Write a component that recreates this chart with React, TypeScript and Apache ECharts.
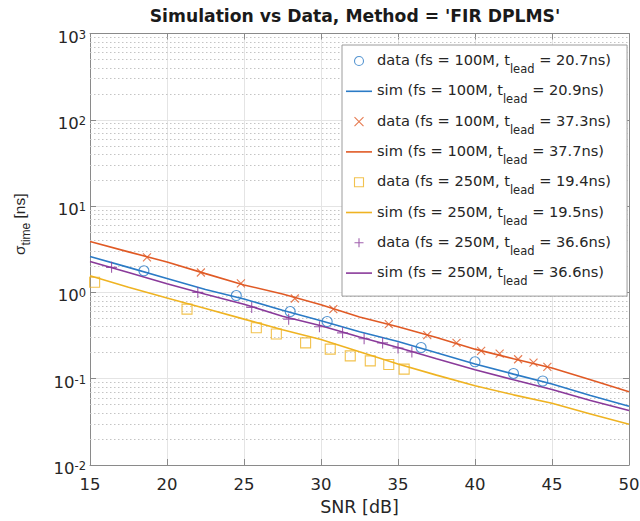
import React, { useEffect, useRef } from "react";
import * as echarts from "echarts";

// ---------- data ----------
const snrSim = [15, 17.5, 20, 22.5, 25, 27.5, 30, 32.5, 35, 37.5, 40, 42.5, 45, 47.5, 50];
const simA = [2.6, 1.95, 1.45, 1.08, 0.84, 0.62, 0.47, 0.35, 0.27, 0.2, 0.148, 0.113, 0.087, 0.064, 0.048];
const simB = [3.88, 2.95, 2.25, 1.65, 1.22, 0.96, 0.72, 0.52, 0.4, 0.3, 0.22, 0.17, 0.133, 0.097, 0.0706];
const simC = [1.56, 1.15, 0.86, 0.65, 0.49, 0.37, 0.285, 0.205, 0.148, 0.11, 0.083, 0.065, 0.052, 0.039, 0.0297];
const simD = [2.28, 1.7, 1.26, 0.95, 0.73, 0.53, 0.41, 0.305, 0.23, 0.17, 0.127, 0.097, 0.075, 0.056, 0.0427];

const snrDataA = [18.5, 24.5, 28.0, 30.4, 36.5, 40.0, 42.5, 44.4];
const valDataA = [1.78, 0.92, 0.6, 0.46, 0.23, 0.157, 0.115, 0.094];
const snrDataB = [18.7, 22.2, 24.8, 28.3, 30.8, 34.4, 36.9, 38.8, 40.4, 41.6, 42.8, 43.8, 44.7];
const valDataB = [2.55, 1.7, 1.27, 0.85, 0.64, 0.43, 0.32, 0.26, 0.21, 0.195, 0.168, 0.154, 0.137];
const snrDataC = [15.3, 21.3, 25.8, 27.1, 29.0, 30.6, 31.9, 33.2, 34.4, 35.4];
const valDataC = [1.31, 0.64, 0.39, 0.33, 0.26, 0.22, 0.184, 0.161, 0.146, 0.129];
const snrDataD = [16.4, 22.0, 25.5, 27.9, 29.9, 31.4, 32.8, 34.0, 35.0, 35.9];
const valDataD = [1.95, 1.0, 0.67, 0.49, 0.4, 0.34, 0.29, 0.26, 0.227, 0.204];

const seriesNames = [
  "data (fs = 100M, t_lead = 20.7ns)",
  "sim (fs = 100M, t_lead = 20.9ns)",
  "data (fs = 100M, t_lead = 37.3ns)",
  "sim (fs = 100M, t_lead = 37.7ns)",
  "data (fs = 250M, t_lead = 19.4ns)",
  "sim (fs = 250M, t_lead = 19.5ns)",
  "data (fs = 250M, t_lead = 36.6ns)",
  "sim (fs = 250M, t_lead = 36.6ns)",
];

const decades = [0.01, 0.1, 1, 10, 100];
const minorSteps = [2, 3, 4, 5, 6, 7, 8, 9];

// ---------- style ----------
const FONT = '"DejaVu Sans", Verdana, sans-serif';
const FONT_Y = '"Liberation Sans", Arial, Helvetica, sans-serif';
const TXT = "#262626";
const AX = "#8a8a8a";
const C_BLUE = "#2b7bc6";
const C_ORANGE = "#e05a25";
const C_YELLOW = "#efb322";
const C_PURPLE = "#8a3a9a";

const SYM_CIRCLE = "path://M5,0A5,5,0,1,1,5,10A5,5,0,1,1,5,0Z";
const SYM_X = "path://M0,0L10,10M10,0L0,10";
const SYM_SQ = "path://M0,0L10,0L10,10L0,10Z";
const SYM_PLUS = "path://M5,0L5,10M0,5L10,5";
const ICON_LINE = "path://M0,0H26V1.6H0Z";

const zip = (xs: number[], ys: number[]) => xs.map((x, i) => [x, ys[i]]);

export default function App() {
  const ref = useRef<HTMLDivElement>(null);

  useEffect(() => {
    if (!ref.current) return;
    const chart = echarts.init(ref.current, undefined, { renderer: "svg" });

    const minorVals: number[] = [];
    decades.forEach((d) => minorSteps.forEach((m) => minorVals.push(m * d)));

    const scatter = (name: string, sym: string, size: number, color: string, data: number[][]) => ({
      type: "scatter",
      name,
      data,
      symbol: sym,
      symbolSize: size,
      z: 4,
      itemStyle: { color: "none", borderColor: color, borderWidth: 1.1 },
    });
    const line = (name: string, color: string, data: number[][]) => ({
      type: "line",
      name,
      data,
      symbol: "none",
      showSymbol: false,
      z: 3,
      lineStyle: { color, width: 1.6 },
      itemStyle: { color },
    });

    const option: any = {
      animation: false,
      backgroundColor: "#ffffff",
      textStyle: { fontFamily: FONT },
      graphic: [
        {
          type: "text",
          x: 355,
          y: 15.5,
          style: {
            text: "Simulation vs Data, Method = 'FIR DPLMS'",
            font: `bold 17.2px ${FONT}`,
            fill: "#1a1a1a",
            align: "center",
            verticalAlign: "middle",
          },
        },
      ],
      grid: { left: 90, right: 11, top: 33.5, bottom: 56, containLabel: false, outerBoundsMode: "none" },
      legend: {
        orient: "vertical",
        left: 342,
        top: 45,
        z: 20,
        padding: [7, 16, 9, 4],
        itemGap: 7.3,
        itemWidth: 26,
        itemHeight: 9,
        backgroundColor: "#ffffff",
        borderColor: "#9c9c9c",
        borderWidth: 1,
        itemStyle: { borderWidth: 1.1 },
        data: seriesNames.map((n, i) =>
          i % 2 === 1 ? { name: n, icon: ICON_LINE, itemStyle: { borderWidth: 0 } } : { name: n }
        ),
        formatter: (n: string) => {
          const parts = n.split("t_lead");
          return `{m|${parts[0]}t}{sub|lead}{m|${parts[1]}}`;
        },
        textStyle: {
          fontFamily: FONT,
          fontSize: 14.6,
          color: TXT,
          rich: {
            m: { fontFamily: FONT, fontSize: 14.6, color: TXT, lineHeight: 18, verticalAlign: "top" },
            sub: {
              fontFamily: FONT,
              fontSize: 11.5,
              color: TXT,
              lineHeight: 12,
              padding: [11, 0, 0, 0],
              verticalAlign: "top",
            },
          },
        },
      },
      xAxis: [
        {
          type: "value",
          min: 15,
          max: 50,
          interval: 5,
          position: "bottom",
          axisLine: { show: true, lineStyle: { color: AX, width: 1 } },
          axisTick: { show: true, inside: true, length: 6, lineStyle: { color: AX } },
          splitLine: { show: true, lineStyle: { color: "#e4e4e4", width: 1 } },
          axisLabel: { fontFamily: FONT, fontSize: 16.5, color: TXT, margin: 11 },
          name: "SNR [dB]",
          nameLocation: "middle",
          nameGap: 32,
          nameTextStyle: { fontFamily: FONT, fontSize: 17.5, color: TXT },
        },
        {
          type: "value",
          min: 15,
          max: 50,
          interval: 5,
          position: "top",
          axisLine: { show: true, lineStyle: { color: AX, width: 1 } },
          axisTick: { show: true, inside: true, length: 6, lineStyle: { color: AX } },
          splitLine: { show: false },
          axisLabel: { show: false },
        },
      ],
      yAxis: [
        {
          type: "log",
          logBase: 10,
          min: 0.01,
          max: 1000,
          position: "left",
          axisLine: { show: true, lineStyle: { color: AX, width: 1 } },
          axisTick: { show: true, inside: true, length: 6, lineStyle: { color: AX } },
          splitLine: { show: true, lineStyle: { color: "#e4e4e4", width: 1 } },
          axisLabel: {
            margin: 4,
            padding: [7, 0, 0, 0],
            formatter: (v: number) => `{b|10}{s|${Math.round(Math.log10(v))}}`,
            rich: {
              b: { fontFamily: FONT, fontSize: 16.5, color: TXT, lineHeight: 17, padding: [3, 0, 0, 0], verticalAlign: "bottom" },
              s: { fontFamily: FONT, fontSize: 11.5, color: TXT, lineHeight: 11, verticalAlign: "top" },
            },
          },
          name: "{m|σ}{s|time}{m| [ns]}",
          nameLocation: "middle",
          nameRotate: 90,
          nameGap: 62,
          nameTextStyle: {
            padding: [0, 0, 0, 50],
            rich: {
              m: { fontFamily: FONT_Y, fontSize: 15.5, color: TXT, lineHeight: 17, verticalAlign: "top" },
              s: { fontFamily: FONT_Y, fontSize: 12, color: TXT, lineHeight: 12, padding: [9, 0, 0, 0], verticalAlign: "top" },
            },
          },
        },
        {
          type: "log",
          logBase: 10,
          min: 0.01,
          max: 1000,
          position: "right",
          axisLine: { show: true, lineStyle: { color: AX, width: 1 } },
          axisTick: { show: true, inside: true, length: 6, lineStyle: { color: AX } },
          splitLine: { show: false },
          axisLabel: { show: false },
        },
      ],
      series: [
        {
          type: "scatter",
          name: "minor-grid",
          data: [],
          silent: true,
          z: 1,
          markLine: {
            silent: true,
            z: 1,
            symbol: "none",
            label: { show: false },
            lineStyle: { color: "#c4c4c4", type: [1.5, 2.5], width: 1 },
            data: minorVals.map((v) => ({ yAxis: v })),
          },
        },
        scatter(seriesNames[0], SYM_CIRCLE, 10, C_BLUE, zip(snrDataA, valDataA)),
        line(seriesNames[1], C_BLUE, zip(snrSim, simA)),
        scatter(seriesNames[2], SYM_X, 8, C_ORANGE, zip(snrDataB, valDataB)),
        line(seriesNames[3], C_ORANGE, zip(snrSim, simB)),
        scatter(seriesNames[4], SYM_SQ, 10, C_YELLOW, zip(snrDataC, valDataC)),
        line(seriesNames[5], C_YELLOW, zip(snrSim, simC)),
        scatter(seriesNames[6], SYM_PLUS, 11, C_PURPLE, zip(snrDataD, valDataD)),
        line(seriesNames[7], C_PURPLE, zip(snrSim, simD)),
      ],
    };

    chart.setOption(option);
    return () => chart.dispose();
  }, []);

  return (
    <div
      ref={ref}
      style={{ position: "fixed", left: 0, top: 0, width: 640, height: 521, background: "#fff" }}
    />
  );
}
